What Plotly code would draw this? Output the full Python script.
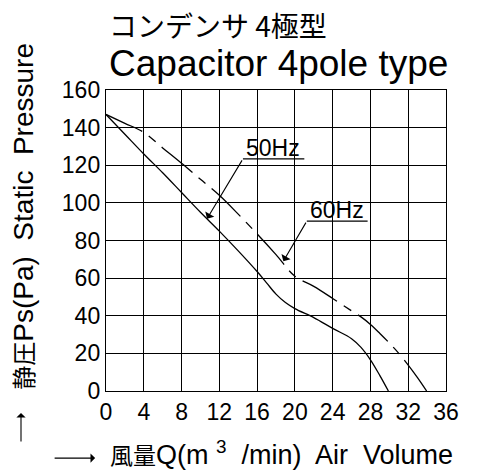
import plotly.graph_objects as go

# ---- data ----
q50 = [0, 2, 4, 6, 8, 10, 12, 14, 16, 17, 18, 19, 20, 22, 24, 26, 27, 28, 29, 29.9]
p50 = [147, 136.5, 126, 116, 105.5, 95, 85, 74.5, 63.5, 57.5, 51.5, 47, 43.8, 39, 33.3, 27.8, 23.2, 16.6, 8.2, 0]

q60 = [0, 2, 4, 6, 8, 10, 12, 14, 16, 18, 20, 22, 24, 26, 27, 28, 29, 30, 31, 32, 33, 33.95]
p60 = [147, 142.3, 137.5, 129.2, 121, 112.5, 104, 94, 83.5, 72.5, 61, 55.6, 49.2, 42.6, 39.4, 35.4, 30.6, 25.5, 20, 13.8, 7, 0]

x_ticks = [0, 4, 8, 12, 16, 20, 24, 28, 32, 36]
y_ticks = [0, 20, 40, 60, 80, 100, 120, 140, 160]

title_jp = "コンデンサ 4極型"
title_en = "Capacitor 4pole type"
x_title = ('<span style="font-size:23px">風量</span>Q(m&nbsp;<sup>3</sup>&nbsp; /min)&nbsp; '
           'Air&nbsp; Volume')
y_title = '<span style="font-size:24px">静圧</span>Ps(Pa)&nbsp; Static&nbsp; Pressure'

# label positions: (text, underline start x, underline y, underline end x, arrow tip x, arrow tip y)
label50 = ("50Hz", 14.5, 123.4, 21.0, 10.7, 91.6)
label60 = ("60Hz", 21.26, 90.3, 27.7, 18.78, 69.0)

FONT = "Liberation Sans, Arial, Noto Sans CJK JP"
CJK = "Noto Sans CJK JP, Liberation Sans"

fig = go.Figure()
fig.add_trace(go.Scatter(x=q50, y=p50, mode="lines", line=dict(color="black", width=1.3),
                         line_shape="spline", showlegend=False, hoverinfo="skip"))
fig.add_trace(go.Scatter(x=q60, y=p60, mode="lines",
                         line=dict(color="black", width=1.3, dash="40px,8px,9px,8px"),
                         line_shape="spline", showlegend=False, hoverinfo="skip"))

annotations = []
shapes = []
for txt, x0, y0, x1, tx, ty in (label50, label60):
    annotations.append(dict(x=x0 + 0.1, y=y0, xref="x", yref="y", text=txt, showarrow=False,
                            xanchor="left", yanchor="bottom", yshift=-4,
                            font=dict(family=FONT, size=23, color="black")))
    shapes.append(dict(type="line", xref="x", yref="y", x0=x0, y0=y0, x1=x1, y1=y0,
                       line=dict(color="black", width=1.3)))
    annotations.append(dict(x=tx, y=ty, xref="x", yref="y", ax=x0, ay=y0, axref="x", ayref="y",
                            text="", showarrow=True, arrowhead=1, arrowsize=1.6, arrowwidth=1.1,
                            arrowcolor="black"))

# titles
annotations.append(dict(x=0.004, y=1.215, xref="paper", yref="paper", text=title_jp, showarrow=False,
                        xanchor="left", yanchor="middle", font=dict(family=CJK, size=28, color="black")))
annotations.append(dict(x=0.004, y=1.088, xref="paper", yref="paper", text=title_en, showarrow=False,
                        xanchor="left", yanchor="middle", font=dict(family=FONT, size=37, color="black")))
annotations.append(dict(x=0.006, y=-0.207, xref="paper", yref="paper", text=x_title, showarrow=False,
                        xanchor="left", yanchor="middle", font=dict(family=FONT, size=27, color="black")))
annotations.append(dict(x=-0.241, y=0.579, xref="paper", yref="paper", text=y_title, showarrow=False,
                        textangle=-90, xanchor="center", yanchor="middle",
                        font=dict(family=FONT, size=28, color="black")))
# axis-title arrows
annotations.append(dict(x=-0.032, y=-0.223, xref="paper", yref="paper", ax=-42, ay=0,
                        text="", showarrow=True, arrowhead=1, arrowsize=1.4, arrowwidth=1.1,
                        arrowcolor="black"))
annotations.append(dict(x=-0.25, y=-0.073, xref="paper", yref="paper", ax=0, ay=30,
                        text="", showarrow=True, arrowhead=1, arrowsize=1.4, arrowwidth=1.1,
                        arrowcolor="black"))

axis_common = dict(showgrid=True, gridcolor="black", gridwidth=1.4, showline=True, linecolor="black",
                   linewidth=1.4, mirror=True, zeroline=False, ticks="",
                   tickfont=dict(family=FONT, size=23, color="black"))

fig.update_layout(
    width=485, height=471,
    margin=dict(l=106, r=39, t=90, b=80),
    paper_bgcolor="white", plot_bgcolor="white",
    xaxis=dict(range=[0, 36], tickvals=x_ticks, ticktext=[str(v) for v in x_ticks], **axis_common),
    yaxis=dict(range=[0, 160], tickvals=y_ticks, ticktext=[str(v) for v in y_ticks], **axis_common),
    annotations=annotations, shapes=shapes,
)

fig.write_html("out.html", config={"displayModeBar": False},
               post_script="document.body.style.margin='0';document.body.style.overflow='hidden';")
